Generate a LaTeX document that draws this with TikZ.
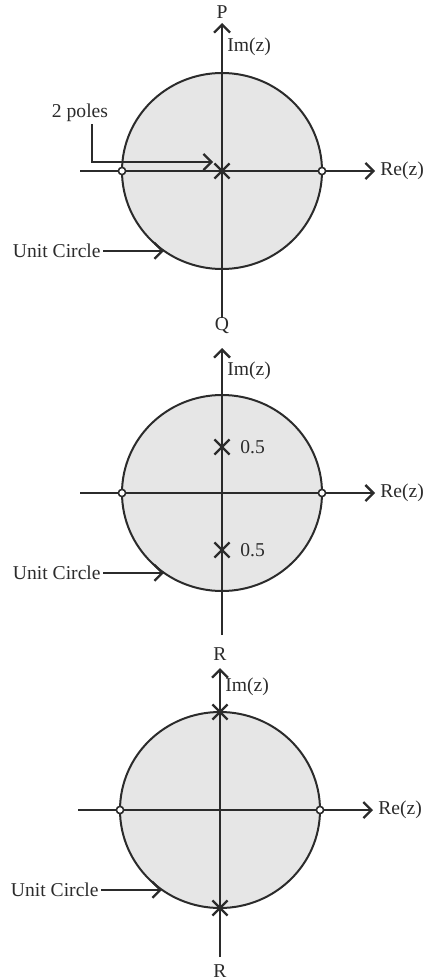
\documentclass[tikz,border=0pt]{standalone}
\usepackage{fontspec}
\setmainfont{Liberation Serif}
\usetikzlibrary{arrows.meta,shapes.geometric,shapes.misc}
\definecolor{inkgray}{HTML}{2B2B2B}
\definecolor{discfill}{HTML}{E6E6E6}
\tikzset{
  unit disc/.style={ellipse,draw=inkgray,fill=discfill,line width=1pt,minimum width=100pt,minimum height=98pt,inner sep=0pt,outer sep=0pt},
  axis line/.style={draw=inkgray,line width=1.15pt},
  axis arrow/.style={axis line,-{Straight Barb[length=4pt,width=8pt]}},
  label arrow/.style={axis arrow},
  zero mark/.style={circle,draw=inkgray,fill=white,line width=0.8pt,minimum size=3.6pt,inner sep=0pt},
  pole mark/.style={cross out,draw=inkgray,line width=1.1pt,minimum size=6.5pt,inner sep=0pt},
  plane label/.style={inner sep=1pt,text=inkgray,font=\fontsize{9.8pt}{11pt}\selectfont},
}

\begin{document}
\begin{tikzpicture}[x=0.5pt,y=-0.5pt]
  \useasboundingbox (0,0) rectangle (423,979);
  % P : double pole at the origin
  \begin{scope}[shift={(222,171)}]
    \node[unit disc] (d1) at (0,0) {};
    \coordinate (re1a) at (-142,0);
    \coordinate (re1b) at (153,0);
    \coordinate (im1a) at (0,147);
    \coordinate (im1b) at (0,-148);
    \draw[axis arrow] (re1a) -- (re1b);
    \draw[axis arrow] (im1a) -- (im1b);
    \node[plane label,anchor=west] (re1) at ([xshift=1.5pt]re1b) {Re(z)};
    \node[plane label,anchor=west] (im1) at (3,-124) {Im(z)};
    \node[plane label] (p1) at (0,-159) {P};
    \node[zero mark] (z1a) at (d1.west) {};
    \node[zero mark] (z1b) at (d1.east) {};
    \node[pole mark] (x1) at (d1.center) {};
    \node[plane label] (poles1) at (-142,-58) {2 poles};
    \coordinate (pb1) at (-130,-9);
    \coordinate (pt1) at (-9,-9);
    \draw[label arrow] (poles1.south -| pb1) -- (pb1) -- (pt1);
    \node[plane label,anchor=east] (uc1) at ([xshift=-30.5pt]d1.234) {Unit Circle};
    \draw[label arrow] (uc1.east) -- (d1.234);
  \end{scope}
  % Q : poles at +0.5j and -0.5j
  \begin{scope}[shift={(222,493)}]
    \node[unit disc] (d2) at (0,0) {};
    \coordinate (re2a) at (-142,0);
    \coordinate (re2b) at (153,0);
    \coordinate (im2a) at (0,142);
    \coordinate (im2b) at (0,-145);
    \draw[axis arrow] (re2a) -- (re2b);
    \draw[axis arrow] (im2a) -- (im2b);
    \node[plane label,anchor=west] (re2) at ([xshift=1.5pt]re2b) {Re(z)};
    \node[plane label,anchor=west] (im2) at (3,-122) {Im(z)};
    \node[plane label] (q2) at (0,-167) {Q};
    \node[zero mark] (z2a) at (d2.west) {};
    \node[zero mark] (z2b) at (d2.east) {};
    \node[pole mark] (x2a) at (0,-46) {};
    \node[pole mark] (x2b) at (0,57) {};
    \node[plane label,anchor=west] (v2a) at (16,-46) {0.5};
    \node[plane label,anchor=west] (v2b) at (16,57) {0.5};
    \node[plane label,anchor=east] (uc2) at ([xshift=-30.5pt]d2.234) {Unit Circle};
    \draw[label arrow] (uc2.east) -- (d2.234);
  \end{scope}
  % R : poles on the unit circle
  \begin{scope}[shift={(220,810)}]
    \node[unit disc] (d3) at (0,0) {};
    \coordinate (re3a) at (-142,0);
    \coordinate (re3b) at (153,0);
    \coordinate (im3a) at (0,147);
    \coordinate (im3b) at (0,-142);
    \draw[axis arrow] (re3a) -- (re3b);
    \draw[axis arrow] (im3a) -- (im3b);
    \node[plane label,anchor=west] (re3) at ([xshift=1.5pt]re3b) {Re(z)};
    \node[plane label,anchor=west] (im3) at (3,-123) {Im(z)};
    \node[plane label] (r3a) at (0,-156) {R};
    \node[plane label] (r3b) at (0,161) {R};
    \node[zero mark] (z3a) at (d3.west) {};
    \node[zero mark] (z3b) at (d3.east) {};
    \node[pole mark] (x3a) at (d3.north) {};
    \node[pole mark] (x3b) at (d3.south) {};
    \node[plane label,anchor=east] (uc3) at ([xshift=-30.5pt]d3.234) {Unit Circle};
    \draw[label arrow] (uc3.east) -- (d3.234);
  \end{scope}
\end{tikzpicture}
\end{document}
